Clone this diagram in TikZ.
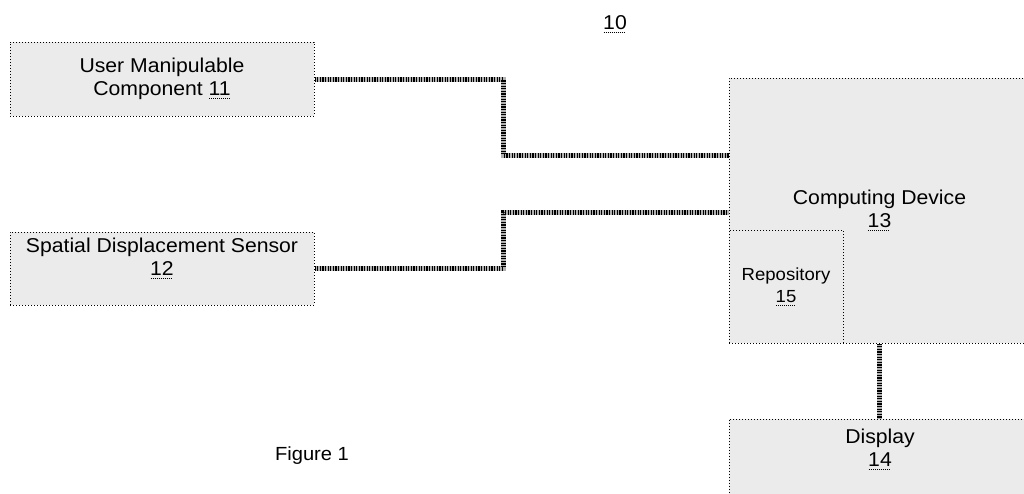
\documentclass[tikz,border=0pt]{standalone}
\usepackage{fontspec}
\setmainfont{Liberation Sans}[FakeStretch=1.06]
\newcommand\dotul[1]{\setbox0\hbox{#1}\rlap{\raisebox{-3.5pt}{\hbox to \wd0{\leaders\hbox to 2pt{\hss\rule{1pt}{0.9pt}\hss}\hfill}}}\box0}
\begin{document}
\begin{tikzpicture}[x=1pt,y=-1pt,
  blockbox/.style={draw=black, line width=1pt, dash pattern=on 1pt off 2pt,
    fill=black!8, inner sep=0pt, align=center, font=\fontsize{20}{23}\selectfont},
  linkbase/.style={line width=5pt, draw=black!30},
  linkhatch/.style={line width=5pt, draw=black, dash pattern=on 1.2pt off 1.4pt},
  plain/.style={inner sep=0pt, font=\fontsize{20}{23}\selectfont}]
\clip (0,0) rectangle (1024,493);
\fill[white] (0,0) rectangle (1024,493);
% blocks
\node[blockbox, minimum width=304pt, minimum height=74pt] (n11) at (162,79)
  {User Manipulable\\Component \dotul{11}};
\node[blockbox, minimum width=304pt, minimum height=73pt] (n12) at (162,268.5) {};
\node[plain, align=center] (t12) at (162,258) {Spatial Displacement Sensor\\\dotul{12}};
\node[blockbox, minimum width=301pt, minimum height=265pt] (comp) at (879.5,210.5)
  {Computing Device\\\dotul{13}};
\node[blockbox, minimum width=114pt, minimum height=113pt,
  font=\fontsize{17.5}{22}\selectfont] (repo) at (786,286.5) {Repository\\\dotul{15}};
\node[blockbox, minimum width=301pt, minimum height=81pt] (disp) at (879.5,459.5) {};
\node[plain, align=center] (t14) at (880,449) {Display\\\dotul{14}};
% connectors
\coordinate (j1) at (503,155);
\coordinate (j2) at (503,212);
\foreach \s in {linkbase,linkhatch}{
  \draw[\s] (n11.east) -| (j1) -- (j1 -| comp.west);
  \draw[\s] (n12.east) -| (j2) -- (j2 -| comp.west);
  \draw[\s] (comp.south) -- (disp.north);
}
% labels
\node[plain, font=\fontsize{20}{22}\selectfont] (ref10) at (615,24) {\dotul{10}};
\node[plain, font=\fontsize{19}{22}\selectfont] (fig) at (312,456) {Figure 1};
\end{tikzpicture}
\end{document}
